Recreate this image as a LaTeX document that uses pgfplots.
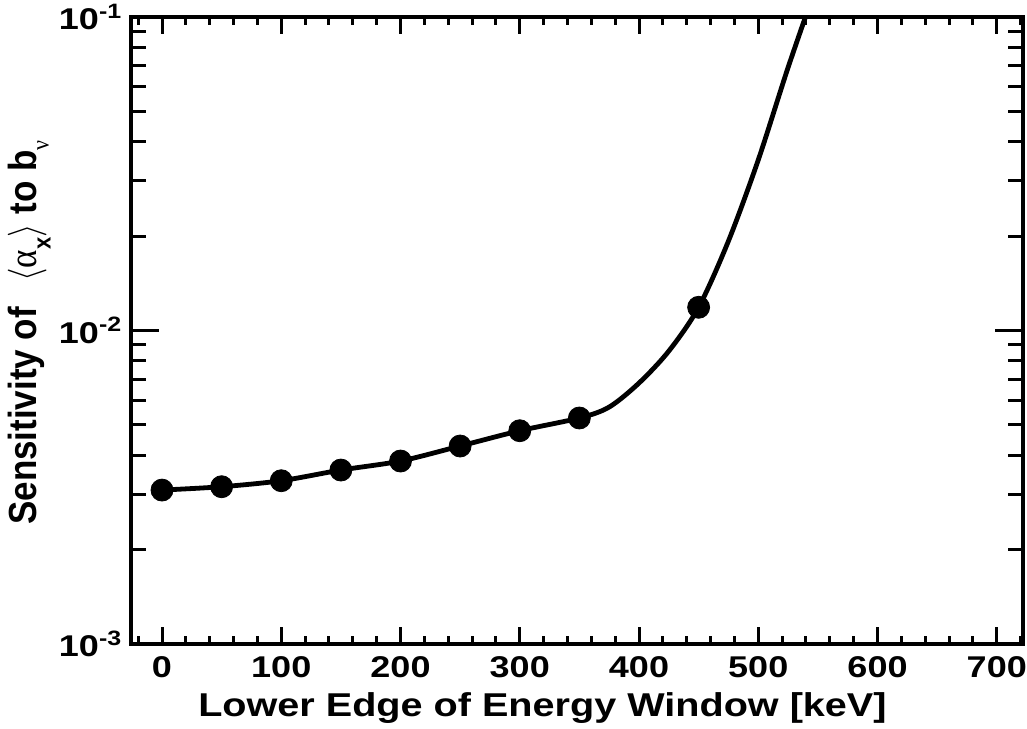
\documentclass[border=0pt]{standalone}
\usepackage{fontspec}
\setmainfont{Liberation Sans}
\newfontfamily\symfont{Liberation Serif}
\usepackage{pgfplots}
\usepackage{pgfplotstable}
\pgfplotsset{compat=1.18}

% smooth sensitivity curve vs. lower edge of the energy window
\pgfplotstableread{
x     y
0     3.098e-3
50    3.175e-3
100   3.318e-3
150   3.589e-3
200   3.834e-3
250   4.281e-3
300   4.790e-3
350   5.259e-3
375   5.70e-3
400   6.80e-3
425   8.60e-3
450   1.186e-2
475   1.93e-2
500   3.50e-2
525   6.90e-2
550   1.30e-1
}\curvetab

% computed windows
\pgfplotstableread{
x     y
0     3.098e-3
50    3.175e-3
100   3.318e-3
150   3.589e-3
200   3.834e-3
250   4.281e-3
300   4.790e-3
350   5.259e-3
450   1.186e-2
}\pointtab

\newcommand\wide[1]{\scalebox{1.2}[1]{#1}}
\newcommand\tenpow[1]{\wide{10\raisebox{5.85pt}{\fontsize{10.4}{10.4}\selectfont #1}}}

\begin{document}
\begin{tikzpicture}
\pgfplotsset{
  frame/.style={
    scale only axis, width=446pt, height=313.5pt,
    at={(0,0)}, anchor=south west,
    axis line style={line width=1.6pt},
    tick style={line width=1.5pt, black},
    tick align=inside,
    xmin=-26, xmax=722,
  },
}
% y axis: log scale, long ticks, data
\begin{axis}[frame,
  ymode=log, ymin=1e-3, ymax=1e-1,
  xtick=\empty, minor xtick={},
  ytick={1e-3,1e-2,1e-1},
  yticklabels={\tenpow{-3},\tenpow{-2},\tenpow{-1}},
  yticklabel style={font=\fontsize{15}{15}\selectfont\bfseries, anchor=base east,
    inner sep=0pt, yshift=-6.35pt, xshift=-4.7pt},
  major tick length=14pt, minor tick length=7.5pt,
  ytick pos=both,
]
\addplot[smooth, tension=0.5, line width=2.4pt, black] table[x=x,y=y] {\curvetab};
\addplot[only marks, mark=*, mark size=5.5pt, black] table[x=x,y=y] {\pointtab};
\end{axis}
% x axis: shorter ticks, labels and titles
\begin{axis}[frame,
  ymin=0, ymax=1, ytick=\empty,
  xtick={0,100,...,700},
  xticklabels={\wide{0},\wide{100},\wide{200},\wide{300},\wide{400},\wide{500},\wide{600},\wide{700}},
  minor xtick={-20,0,...,720},
  xtick pos=both,
  major tick length=8.5pt, minor tick length=4.25pt,
  xticklabel style={font=\fontsize{15}{15}\selectfont\bfseries, anchor=base,
    inner sep=0pt, yshift=-16.5pt},
  clip=false,
]
\node[anchor=base east, font=\fontsize{16.5}{16.5}\selectfont\bfseries, inner sep=0pt]
  at (axis description cs:0.8475,-0.1158) {\wide{Lower Edge of Energy Window [keV]}};
\node[anchor=base east, rotate=90, font=\fontsize{17.5}{17.5}\selectfont\bfseries, inner sep=0pt]
  at (axis description cs:-0.1054,0.8038)
  {\scalebox{1}[1.12]{Sensitivity of \ \,$\big\langle${\mdseries\symfont α}\raisebox{-0.35em}{\fontsize{11}{11}\selectfont x}$\big\rangle$ to b\raisebox{-0.3em}{\fontsize{11}{11}\selectfont\mdseries\symfont ν}}};
\end{axis}
\pgfresetboundingbox
\path (-65.5pt,-42pt) rectangle (448pt,322pt);
\end{tikzpicture}
\end{document}
